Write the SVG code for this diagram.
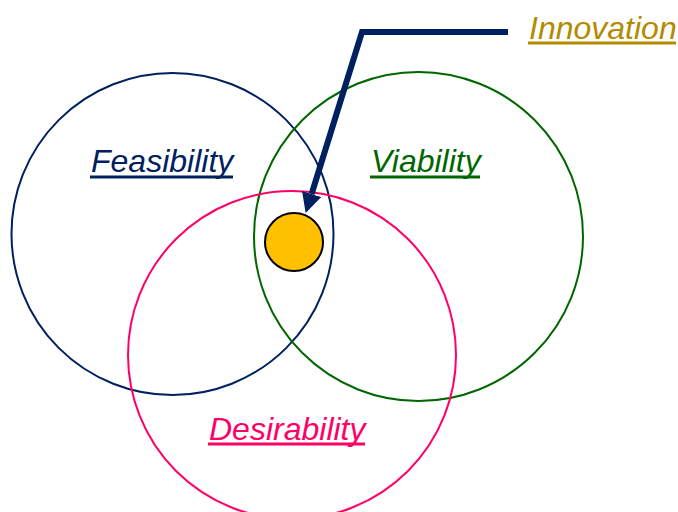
<svg xmlns="http://www.w3.org/2000/svg" width="678" height="512" viewBox="0 0 678 512">
<style>
.lbl{font-family:"Liberation Sans",Arial,sans-serif;font-style:italic;font-size:32px}
.ring{fill:none;stroke-width:2}
</style>
<defs>
<marker id="ah" viewBox="0 0 20 20" refX="0" refY="10" markerWidth="20" markerHeight="20" markerUnits="userSpaceOnUse" orient="auto">
<path d="M0,0 L20,10 L0,20 z" fill="#002060"/>
</marker>
</defs>
<rect width="678" height="512" fill="#fff"/>
<g id="feasibility">
<circle class="ring" cx="172.5" cy="234" r="161" stroke="#002060"/>
<text class="lbl" x="91" y="172" fill="#002060">Feasibility</text>
<rect x="90" y="175.5" width="143" height="3" fill="#002060"/>
</g>
<g id="viability">
<circle class="ring" cx="418.5" cy="236.5" r="164.5" stroke="#006600"/>
<text class="lbl" x="371" y="172" fill="#006600">Viability</text>
<rect x="370" y="175.5" width="110" height="3" fill="#006600"/>
</g>
<g id="desirability">
<circle class="ring" cx="292" cy="355" r="164" stroke="#FF0066"/>
<text class="lbl" x="209" y="440" fill="#FF0066">Desirability</text>
<rect x="208" y="442.5" width="157" height="3" fill="#FF0066"/>
</g>
<g id="innovation">
<circle cx="294" cy="242" r="29" fill="#FFC000" stroke="#000" stroke-width="2"/>
<text class="lbl" x="529" y="39" fill="#B38B00">Innovation</text>
<rect x="528" y="41.5" width="148" height="3" fill="#B38B00"/>
</g>
<g id="connectors">
<polyline points="508,32 362,32 311.6,194" fill="none" stroke="#002060" stroke-width="6" marker-end="url(#ah)"/>
</g>
</svg>
